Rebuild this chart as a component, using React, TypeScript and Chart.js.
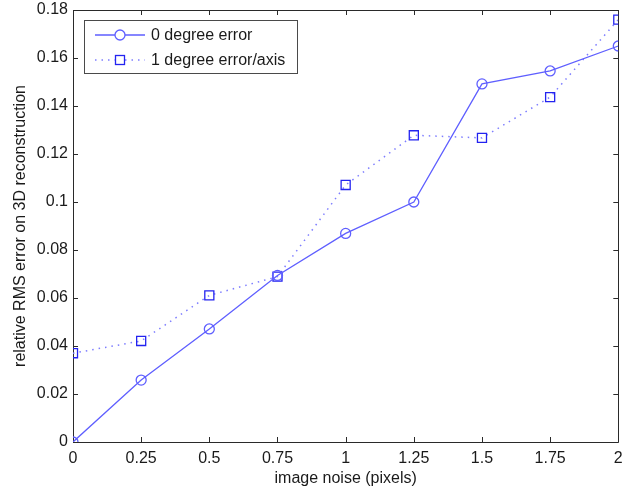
import React, { useEffect, useRef } from "react";
import { Chart, registerables } from "chart.js";

Chart.register(...registerables);

// ---- data ----
const noiseLevels = [0, 0.25, 0.5, 0.75, 1, 1.25, 1.5, 1.75, 2];
const zeroDegreeError = [0, 0.0258, 0.0471, 0.0694, 0.0869, 0.1, 0.1492, 0.1546, 0.165];
const oneDegreeError = [0.037, 0.0421, 0.0611, 0.0689, 0.1071, 0.1278, 0.1267, 0.1437, 0.176];
const seriesLabels = ["0 degree error", "1 degree error/axis"];
const xTickValues = [0, 0.25, 0.5, 0.75, 1, 1.25, 1.5, 1.75, 2];
const yTickValues = [0, 0.02, 0.04, 0.06, 0.08, 0.1, 0.12, 0.14, 0.16, 0.18];
const xTitle = "image noise (pixels)";
const yTitle = "relative RMS error on 3D reconstruction";

const FONT = "'Liberation Sans', Arial, Helvetica, sans-serif";
const TEXT = "#1a1a1a";
const AXIS = "#2a2a2a";
const LINE0 = "rgb(95,95,255)";
const LINE1 = "rgb(125,125,255)";
const MARK1 = "rgb(35,35,240)";

const fmt = (v: number) => String(Number(v.toFixed(4)));

const zeroPadding = (s: any) => {
  s.paddingTop = 0;
  s.paddingBottom = 0;
  s.paddingLeft = 0;
  s.paddingRight = 0;
};

const framePlugin = {
  id: "matlabFrame",
  beforeDatasetsDraw(chart: any) {
    const { ctx, chartArea } = chart;
    const { left, right, top, bottom } = chartArea;
    const xs = chart.scales.x;
    const ys = chart.scales.y;
    const tl = 5;
    ctx.save();
    ctx.strokeStyle = AXIS;
    ctx.lineWidth = 1;
    ctx.beginPath();
    ctx.rect(Math.round(left) + 0.5, Math.round(top) + 0.5, Math.round(right - left), Math.round(bottom - top));
    ctx.stroke();
    ctx.beginPath();
    for (const v of xTickValues) {
      const px = Math.round(xs.getPixelForValue(v)) + 0.5;
      ctx.moveTo(px, bottom);
      ctx.lineTo(px, bottom - tl);
      ctx.moveTo(px, top);
      ctx.lineTo(px, top + tl);
    }
    for (const v of yTickValues) {
      const py = Math.round(ys.getPixelForValue(v)) + 0.5;
      ctx.moveTo(left, py);
      ctx.lineTo(left + tl, py);
      ctx.moveTo(right, py);
      ctx.lineTo(right - tl, py);
    }
    ctx.stroke();
    ctx.restore();
  },
};

const legendPlugin = {
  id: "insideLegend",
  afterDraw(chart: any) {
    const { ctx, chartArea } = chart;
    const bx = chartArea.left + 11;
    const by = chartArea.top + 10;
    const bw = 213;
    const bh = 53;
    ctx.save();
    ctx.fillStyle = "#ffffff";
    ctx.fillRect(bx, by, bw, bh);
    ctx.strokeStyle = "#4a4a4a";
    ctx.lineWidth = 1;
    ctx.strokeRect(Math.round(bx) + 0.5, Math.round(by) + 0.5, bw, bh);
    ctx.font = `16px ${FONT}`;
    ctx.textBaseline = "middle";
    ctx.textAlign = "left";
    const rows = [by + 15, by + 40];
    const sx0 = bx + 11;
    const sx1 = bx + 61;
    const mx = bx + 36;
    // row 1: solid with circle
    ctx.strokeStyle = LINE0;
    ctx.lineWidth = 1.3;
    ctx.beginPath();
    ctx.moveTo(sx0, rows[0]);
    ctx.lineTo(mx - 5, rows[0]);
    ctx.moveTo(mx + 5, rows[0]);
    ctx.lineTo(sx1, rows[0]);
    ctx.stroke();
    ctx.beginPath();
    ctx.arc(mx, rows[0], 5, 0, Math.PI * 2);
    ctx.stroke();
    // row 2: dotted with square
    ctx.strokeStyle = LINE1;
    ctx.lineWidth = 1.5;
    ctx.setLineDash([1.5, 5]);
    ctx.beginPath();
    ctx.moveTo(sx0, rows[1]);
    ctx.lineTo(mx - 5, rows[1]);
    ctx.moveTo(mx + 5, rows[1]);
    ctx.lineTo(sx1, rows[1]);
    ctx.stroke();
    ctx.setLineDash([]);
    ctx.strokeStyle = MARK1;
    ctx.lineWidth = 1.3;
    ctx.strokeRect(mx - 4.5, rows[1] - 4.5, 9, 9);
    ctx.fillStyle = TEXT;
    ctx.fillText(chart.data.datasets[0].label, bx + 67, rows[0] + 1);
    ctx.fillText(chart.data.datasets[1].label, bx + 67, rows[1] + 1);
    ctx.restore();
  },
};

export default function App() {
  const canvasRef = useRef<HTMLCanvasElement | null>(null);

  useEffect(() => {
    document.body.style.margin = "0";
    const canvas = canvasRef.current;
    if (!canvas) return;
    const chart = new Chart(canvas, {
      type: "line",
      data: {
        datasets: [
          {
            label: seriesLabels[0],
            data: noiseLevels.map((x, i) => ({ x, y: zeroDegreeError[i] })),
            borderColor: LINE0,
            borderWidth: 1.3,
            pointStyle: "circle",
            pointRadius: 5,
            pointBorderColor: LINE0,
            pointBackgroundColor: "rgba(0,0,0,0)",
            pointBorderWidth: 1.3,
            tension: 0,
            fill: false,
          },
          {
            label: seriesLabels[1],
            data: noiseLevels.map((x, i) => ({ x, y: oneDegreeError[i] })),
            borderColor: LINE1,
            borderWidth: 1.5,
            borderDash: [1.5, 5],
            pointStyle: "rect",
            pointRadius: 6.4,
            pointBorderColor: MARK1,
            pointBackgroundColor: "rgba(0,0,0,0)",
            pointBorderWidth: 1.3,
            tension: 0,
            fill: false,
          },
        ],
      },
      options: {
        responsive: false,
        animation: false,
        events: [],
        layout: { padding: { top: 10, right: 4, left: 0, bottom: 0 } },
        plugins: {
          legend: { display: false },
          tooltip: { enabled: false },
        },
        scales: {
          x: {
            type: "linear",
            min: 0,
            max: 2,
            grid: { display: false, drawTicks: false },
            border: { display: false },
            afterBuildTicks: (s: any) => {
              s.ticks = xTickValues.map((v) => ({ value: v }));
            },
            afterFit: (s: any) => {
              s.height = 48;
              zeroPadding(s);
            },
            ticks: {
              autoSkip: false,
              maxRotation: 0,
              padding: 7,
              color: TEXT,
              font: { family: FONT, size: 16 },
              callback: (v: any) => fmt(Number(v)),
            },
            title: {
              display: true,
              text: xTitle,
              color: TEXT,
              font: { family: FONT, size: 16 },
              padding: { top: 0, bottom: 2 },
            },
          },
          y: {
            type: "linear",
            min: 0,
            max: 0.18,
            grid: { display: false, drawTicks: false },
            border: { display: false },
            afterBuildTicks: (s: any) => {
              s.ticks = yTickValues.map((v) => ({ value: v }));
            },
            afterFit: (s: any) => {
              s.width = 73;
              zeroPadding(s);
            },
            ticks: {
              autoSkip: false,
              padding: 5,
              color: TEXT,
              font: { family: FONT, size: 16 },
              callback: (v: any) => fmt(Number(v)),
            },
            title: {
              display: true,
              text: yTitle,
              color: TEXT,
              font: { family: FONT, size: 16 },
              padding: { top: 11, bottom: 0 },
            },
          },
        },
      },
      plugins: [framePlugin, legendPlugin],
    } as any);
    return () => chart.destroy();
  }, []);

  return <canvas ref={canvasRef} width={626} height={490} style={{ display: "block" }} />;
}
